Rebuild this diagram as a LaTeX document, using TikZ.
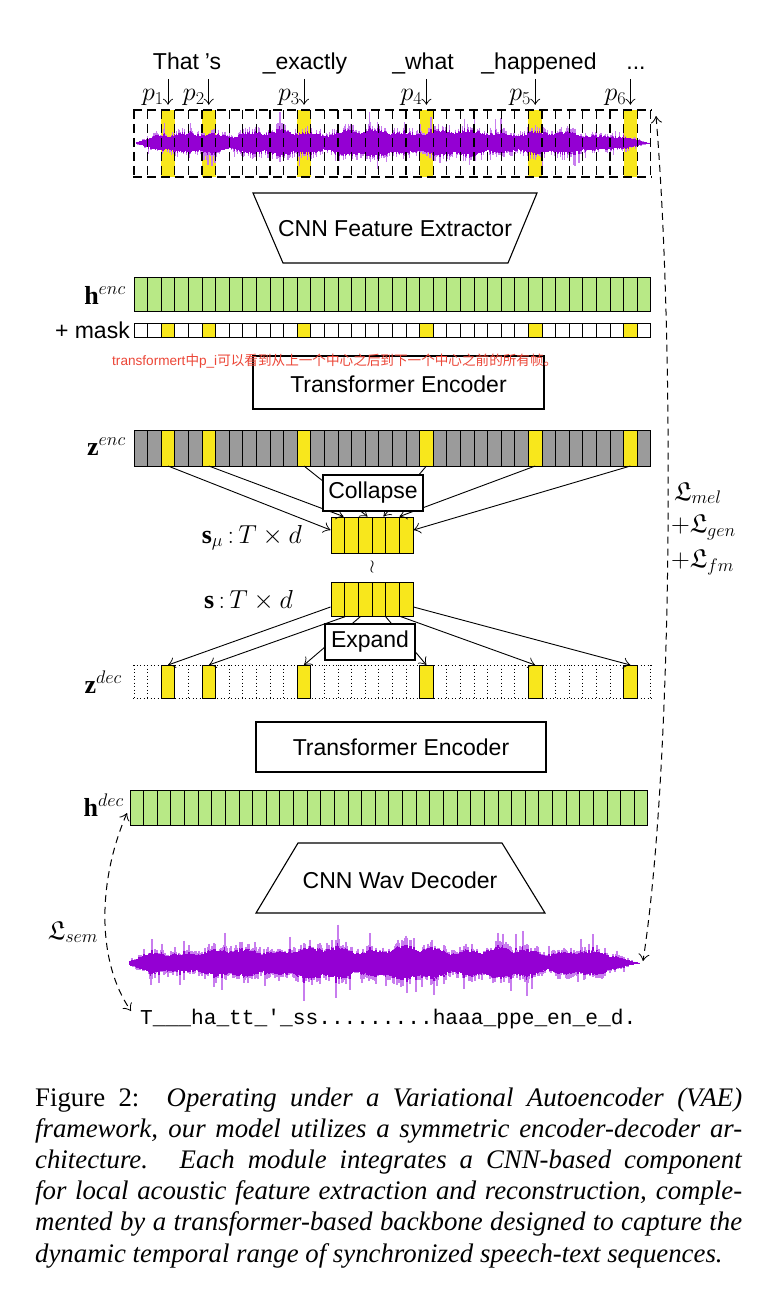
\RequirePackage{fix-cm}
\documentclass[tikz,border=0pt]{standalone}
\usepackage{amssymb}
\usepackage{fontspec}
\setmainfont{Liberation Serif}
\setsansfont{Liberation Sans}
\setmonofont{Liberation Mono}
\newfontfamily\cjkfont{Noto Sans CJK SC}
\usetikzlibrary{arrows.meta,calc}
\definecolor{cgreen}{RGB}{184,233,134}
\definecolor{cyellow}{RGB}{248,231,28}
\definecolor{cgray}{RGB}{155,155,155}
\definecolor{wdark}{RGB}{148,0,211}
\definecolor{wlight}{RGB}{200,125,238}
\definecolor{cred}{RGB}{236,70,55}
\newcommand\ylist{2,5,12,21,29,36}
\newcommand\drawwave[7]{%
  \foreach \i in {0,...,#4}{%
    \pgfmathsetmacro\wt{\i/#4}%
    \pgfmathsetmacro\wx{#1+(#2-#1)*\wt}%
    \pgfmathsetmacro\wenv{#5*(0.45+0.3*abs(sin(\wt*1000+#6))+0.25*abs(sin(\wt*2900+2*#6)))*(0.6+0.4*sin(180*\wt))*min(1,#7+\wt/0.06)*min(1,(1-\wt)/0.07)}%
    \pgfmathsetmacro\wa{\wenv*(0.3+0.7*rnd)*(1+0.7*(rnd>0.92))}%
    \pgfmathsetmacro\wb{\wenv*(0.3+0.7*rnd)*(1+0.7*(rnd>0.92))}%
    \draw[wl] (\wx,#3-\wa) -- (\wx,#3+\wb);
    \draw[wd] (\wx,#3-0.45*\wenv-0.25*\wa) -- (\wx,#3+0.45*\wenv+0.25*\wb);
  }}
\tikzset{
  cellb/.style={draw=black, line width=1pt},
  ycell/.style={draw=black, line width=1pt, fill=cyellow, minimum width=13.6pt, inner sep=0pt, outer sep=0pt},
  box/.style={draw=black, line width=1.1pt, fill=white, inner sep=0pt, font=\sffamily\fontsize{23}{23}\selectfont},
  sflbl/.style={font=\sffamily\fontsize{23}{23}\selectfont, inner sep=0pt},
  mlbl/.style={font=\fontsize{26}{26}\selectfont, inner sep=0pt},
  arr/.style={line width=0.9pt, -{Classical TikZ Rightarrow[length=7pt,width=11pt]}},
  lossarc/.style={line width=1pt, dash pattern=on 7pt off 5pt, {Classical TikZ Rightarrow[length=7pt,width=11pt]}-{Classical TikZ Rightarrow[length=7pt,width=11pt]}},
  dashline/.style={line width=1.1pt, dash pattern=on 9pt off 5pt},
  dotline/.style={line width=0.9pt, dash pattern=on 1pt off 2.5pt},
  wl/.style={wlight, line width=1.2pt},
  wd/.style={wdark, line width=1.2pt},
}
\begin{document}
\begin{tikzpicture}[x=1pt,y=-1pt]
\fill[white] (0,0) rectangle (762,1292);
\useasboundingbox (0,0) rectangle (762,1292);
\pgfmathsetseed{4242}

% ---- words
\node[sflbl, anchor=base] (wThat) at (176,70) {That};
\node[sflbl, anchor=base] (wS) at (213,70) {\char"27 s};
\node[sflbl, anchor=base] (wEx) at (305,70) {\_exactly};
\node[sflbl, anchor=base] (wWhat) at (423,70) {\_what};
\node[sflbl, anchor=base] (wHap) at (539,70) {\_happened};
\node[sflbl, anchor=base] (wDots) at (636,70) {...};

% ---- top yellow columns, p labels
\foreach \k/\n in {2/1,5/2,12/3,21/4,29/5,36/6}{
  \node[fill=cyellow, minimum width=13.6pt, minimum height=67pt, inner sep=0pt] (tc\k) at ({134+(\k+0.5)*13.6},143.5) {};
  \coordinate (pa\k) at ({134+(\k+0.5)*13.6},79);
  \draw[line width=0.9pt, -{Classical TikZ Rightarrow[length=6pt,width=10pt]}, shorten >=5pt] (pa\k) -- (tc\k.north);
  \node[mlbl, anchor=base east] (p\k) at ({134+(\k+0.5)*13.6-4},101) {$p_{\n}$};
}
% ---- top waveform
\drawwave{137}{650}{143}{520}{22}{0}{0.3}
% dashed grid
\foreach \k in {0,...,38}{
  \draw[dashline] ({134+\k*13.6},110) -- ({134+\k*13.6},177);
}
\draw[dashline] (133,110) -- (652,110);
\draw[dashline] (133,177) -- (652,177);
\coordinate (topwave) at (656,116);

% ---- CNN feature extractor
\draw[line width=1.1pt] (253,193) -- (537,193) -- (508,263) -- (283,263) -- cycle;
\node[sflbl] (cnnfe) at (395,229) {CNN Feature Extractor};

% ---- h enc
\foreach \k in {0,...,37}{
  \draw[cellb, fill=cgreen] ({134+\k*13.6},277) rectangle ({134+(\k+1)*13.6},311);
}
\node[mlbl, anchor=base east] (lhenc) at (126,304) {$\mathbf{h}^{enc}$};

% ---- mask
\foreach \k in {0,...,37}{
  \draw[cellb, fill=white] ({134+\k*13.6},323) rectangle ({134+(\k+1)*13.6},337);
}
\foreach \k in \ylist{
  \node[ycell, minimum height=14pt] (mk\k) at ({134+(\k+0.5)*13.6},330) {};
}
\node[sflbl, anchor=base east] (lmask) at (130,338) {+ mask};

% ---- Transformer encoder 1
\node[box, minimum width=291pt, minimum height=53pt] (te1) at (398.5,382.5) {};
\node[sflbl] (te1t) at (398.5,384) {Transformer Encoder};
\node[anchor=west, inner sep=0pt, text=cred, font=\sffamily\fontsize{13.6}{14}\selectfont] (note) at (112,361)
  {transformert{\cjkfont 中}p\_i{\cjkfont 可以看到从上一个中心之后到下一个中心之前的所有帧。}};

% ---- z enc
\foreach \k in {0,...,37}{
  \draw[cellb, fill=cgray] ({134+\k*13.6},430) rectangle ({134+(\k+1)*13.6},466);
}
\foreach \k in \ylist{
  \node[ycell, minimum height=36pt] (ze\k) at ({134+(\k+0.5)*13.6},448) {};
}
\node[mlbl, anchor=base east] (lzenc) at (126,455) {$\mathbf{z}^{enc}$};

% ---- s_mu
\node[draw, line width=1pt, fill=cyellow, minimum width=82pt, minimum height=36pt, inner sep=0pt] (smu) at (372,535) {};
\foreach \k in {1,...,5}{
  \draw[line width=1pt] ({331+\k*82/6},517) -- ({331+\k*82/6},553);
}
\node[mlbl, anchor=base east] (lsmu) at (302,543) {$\mathbf{s}_{\mu}\,{:}\,T\times d$};

% collapse arrows
\draw[arr] (ze2.south) -- ($(smu.west)+(0,-5)$);
\draw[arr] (ze5.south) -- ($(smu.north west)+(13,0)$);
\draw[arr] (ze12.south) -- ($(smu.north west)+(37,0)$);
\draw[arr] (ze21.south) -- ($(smu.north west)+(53,0)$);
\draw[arr] (ze29.south) -- ($(smu.north west)+(69,0)$);
\draw[arr] (ze36.south) -- ($(smu.east)+(0,-5)$);
\node[box, minimum width=100pt, minimum height=36pt] (coll) at (373,493) {Collapse};

\node[font=\fontsize{18}{18}\selectfont, inner sep=0pt] (wr) at (372,567) {$\wr$};

% ---- s
\node[draw, line width=1pt, fill=cyellow, minimum width=82pt, minimum height=34pt, inner sep=0pt] (sn) at (372,599) {};
\foreach \k in {1,...,5}{
  \draw[line width=1pt] ({331+\k*82/6},582) -- ({331+\k*82/6},616);
}
\node[mlbl, anchor=base east] (ls) at (293,608) {$\mathbf{s}\,{:}\,T\times d$};

% ---- z dec
\foreach \k in {0,...,38}{
  \draw[dotline] ({134+\k*13.6},665) -- ({134+\k*13.6},698);
}
\draw[dotline] (133,665) -- (652,665);
\draw[dotline] (133,698) -- (652,698);
\foreach \k in \ylist{
  \node[ycell, minimum height=33pt] (zd\k) at ({134+(\k+0.5)*13.6},681.5) {};
}
\node[mlbl, anchor=base east] (lzdec) at (122,693) {$\mathbf{z}^{dec}$};

% expand arrows
\draw[arr] ($(sn.west)+(0,8)$) -- (zd2.north);
\draw[arr] ($(sn.south west)+(15,0)$) -- (zd5.north);
\draw[arr] ($(sn.south west)+(30,0)$) -- (zd12.north);
\draw[arr] ($(sn.south west)+(55,0)$) -- (zd21.north);
\draw[arr] ($(sn.south west)+(70,0)$) -- (zd29.north);
\draw[arr] ($(sn.east)+(0,8)$) -- (zd36.north);
\node[box, minimum width=90pt, minimum height=36pt] (expd) at (370,642) {Expand};

% ---- Transformer encoder 2
\node[box, minimum width=290pt, minimum height=50pt] (te2) at (401,747) {Transformer Encoder};

% ---- h dec
\foreach \k in {0,...,37}{
  \draw[cellb, fill=cgreen] ({130+\k*13.63},790) rectangle ({130+(\k+1)*13.63},825);
}
\node[mlbl, anchor=base east] (lhdec) at (124,816) {$\mathbf{h}^{dec}$};
\coordinate (hdecpt) at (127,813);

% ---- CNN wav decoder
\draw[line width=1.1pt] (298,843) -- (502,843) -- (545,913) -- (256,913) -- cycle;
\node[sflbl] (cnnwd) at (400,880) {CNN Wav Decoder};

% ---- bottom waveform
\drawwave{130}{640}{963}{510}{26}{77}{0.3}
\coordinate (botwave) at (643,961);

% ---- ctc text
\node[anchor=base west, inner sep=0pt, font=\ttfamily\fontsize{21.2}{21}\selectfont] (ctc) at (140,1024)
  {T\_\_\_ha\_tt\_\char"27\_ss.........haaa\_ppe\_en\_e\_d.};
\coordinate (ctcpt) at (131,1011);

% ---- loss arcs
\draw[lossarc] (hdecpt) .. controls (98,880) and (96,960) .. (ctcpt);
\node[mlbl] (lsem) at (73,932) {$\mathfrak{L}_{sem}$};
\draw[lossarc] (topwave) .. controls (674,330) and (674,760) .. (botwave);
\node[mlbl, anchor=west] (lmel) at (674,493) {$\mathfrak{L}_{mel}$};
\node[mlbl, anchor=west] (lgen) at (671,527) {$+\mathfrak{L}_{gen}$};
\node[mlbl, anchor=west] (lfm) at (671,562) {$+\mathfrak{L}_{fm}$};

% ---- caption
\begin{scope}[every node/.style={anchor=base west, inner sep=0pt, font=\rmfamily\fontsize{26.8}{31}\selectfont}]
\node (cap1) at (35,1106) {\makebox[707pt][s]{Figure 2:\hspace{5pt} \textit{Operating under a Variational Autoencoder (VAE)}}};
\node (cap2) at (35,1137.2) {\makebox[707pt][s]{\textit{framework, our model utilizes a symmetric encoder-decoder ar-}}};
\node (cap3) at (35,1168.4) {\makebox[707pt][s]{\textit{chitecture.\hspace{4pt} Each module integrates a CNN-based component}}};
\node (cap4) at (35,1199.6) {\makebox[707pt][s]{\textit{for local acoustic feature extraction and reconstruction, comple-}}};
\node (cap5) at (35,1230.8) {\makebox[707pt][s]{\textit{mented by a transformer-based backbone designed to capture the}}};
\node (cap6) at (35,1262) {\textit{dynamic temporal range of synchronized speech-text sequences.}};
\end{scope}
\end{tikzpicture}
\end{document}
